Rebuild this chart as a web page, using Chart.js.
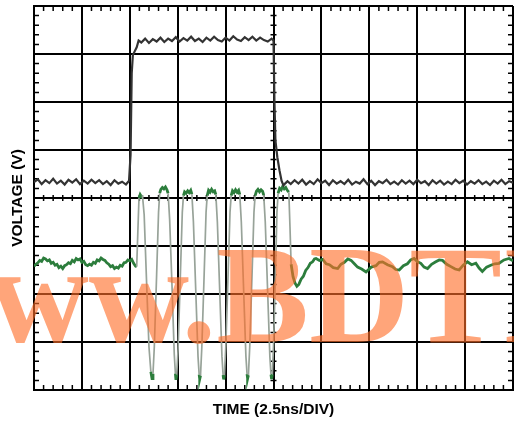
<!DOCTYPE html>
<html>
<head>
<meta charset="utf-8">
<script src="https://cdn.jsdelivr.net/npm/chart.js@4.4.1/dist/chart.umd.min.js"></script>
<style>
  html, body { margin: 0; padding: 0; background: #fff; }
</style>
</head>
<body>
<canvas id="scope" width="514" height="423"></canvas>
<script>
// Scope capture: 10 time divisions x 8 voltage divisions
const nsPerDiv = 2.5;
const timeDivs = 10;
const voltDivs = 8;

// Top trace (black): time in ns, level in divisions
const blackTime = [
  0.0, 0.2, 0.4, 0.6, 0.8, 1.0, 1.2, 1.4, 1.6, 1.8, 2.0, 2.2, 2.4, 2.6, 2.8, 3.0, 3.2, 3.4, 3.6, 3.8, 4.0, 4.2, 4.4, 4.6, 4.8,
  4.96, 5.04, 5.10, 5.16, 5.26, 5.36, 5.46,
  5.6, 5.8, 6.0, 6.2, 6.4, 6.6, 6.8, 7.0, 7.2, 7.4, 7.6, 7.8, 8.0, 8.2, 8.4, 8.6, 8.8, 9.0, 9.2, 9.4, 9.6, 9.8, 10.0, 10.2, 10.4, 10.6, 10.8, 11.0, 11.2, 11.4, 11.6, 11.8, 12.0, 12.2, 12.4,
  12.50, 12.55, 12.60, 12.70, 12.81, 12.92, 13.02, 13.13, 13.23,
  13.4, 13.6, 13.8, 14.0, 14.2, 14.4, 14.6, 14.8, 15.0, 15.2, 15.4, 15.6, 15.8, 16.0, 16.2, 16.4, 16.6, 16.8, 17.0, 17.2,
  17.4, 17.6, 17.8, 18.0, 18.2, 18.4, 18.6, 18.8, 19.0, 19.2, 19.4, 19.6, 19.8, 20.0, 20.2, 20.4, 20.6, 20.8, 21.0, 21.2,
  21.4, 21.6, 21.8, 22.0, 22.2, 22.4, 22.6, 22.8, 23.0, 23.2, 23.4, 23.6, 23.8, 24.0, 24.2, 24.4, 24.6, 24.8, 25.0
];
const blackVolts = [
  4.33, 4.39, 4.29, 4.37, 4.31, 4.40, 4.30, 4.36, 4.28, 4.38, 4.32, 4.39, 4.29, 4.36, 4.30, 4.38, 4.31, 4.37, 4.29, 4.35, 4.27, 4.37, 4.30, 4.34, 4.28,
  4.36, 4.90, 6.60, 6.98, 7.06, 7.14, 7.28,
  7.24, 7.32, 7.23, 7.31, 7.26, 7.34, 7.25, 7.32, 7.27, 7.35, 7.26, 7.33, 7.28, 7.36, 7.27, 7.32, 7.25, 7.34, 7.28, 7.36, 7.29, 7.26, 7.34, 7.28, 7.37, 7.30, 7.27, 7.35, 7.29, 7.36, 7.28, 7.34, 7.29, 7.26, 7.32,
  7.28, 6.00, 5.20, 4.85, 4.58, 4.36, 4.26, 4.31, 4.35,
  4.29, 4.37, 4.30, 4.38, 4.28, 4.35, 4.29, 4.39, 4.31, 4.36, 4.27, 4.37, 4.30, 4.35, 4.29, 4.38, 4.28, 4.34, 4.30, 4.39,
  4.29, 4.36, 4.27, 4.35, 4.31, 4.38, 4.29, 4.34, 4.28, 4.37, 4.30, 4.36, 4.29, 4.38, 4.31, 4.35, 4.27, 4.37, 4.30, 4.36,
  4.28, 4.34, 4.29, 4.38, 4.31, 4.36, 4.28, 4.35, 4.30, 4.37, 4.29, 4.34, 4.27, 4.36, 4.30, 4.38, 4.29, 4.35, 4.32
];

// Bottom trace (green): time in ns, level in divisions
const greenTime = [
  0.00, 0.10, 0.20, 0.30, 0.40, 0.50, 0.60, 0.70, 0.80, 0.90,
  1.00, 1.10, 1.20, 1.30, 1.40, 1.50, 1.60, 1.70, 1.80, 1.90,
  2.00, 2.10, 2.20, 2.30, 2.40, 2.50, 2.60, 2.70, 2.80, 2.90,
  3.00, 3.10, 3.20, 3.30, 3.40, 3.50, 3.60, 3.70, 3.80, 3.90,
  4.00, 4.10, 4.20, 4.30, 4.40, 4.50, 4.60, 4.70, 4.80, 4.90,
  5.00, 5.10, 5.20, 5.30,
  5.36, 5.42, 5.48, 5.54, 5.60, 5.66, 5.75, 5.88, 6.00, 6.10, 6.16, 6.21,
  6.28, 6.40, 6.50, 6.56, 6.62, 6.70, 6.78, 6.86, 6.94, 7.00, 7.08, 7.20, 7.32, 7.38, 7.41, 7.45,
  7.52, 7.64, 7.74,
  7.80, 7.86, 7.94, 8.02, 8.10, 8.18, 8.24, 8.32, 8.44, 8.56, 8.62, 8.65, 8.69,
  8.76, 8.88, 8.98,
  9.04, 9.11, 9.19, 9.27, 9.35, 9.43, 9.49, 9.57, 9.69, 9.81, 9.87, 9.90, 9.94,
  10.01, 10.13, 10.23,
  10.29, 10.36, 10.44, 10.52, 10.60, 10.68, 10.74, 10.82, 10.94, 11.06, 11.12, 11.15, 11.19,
  11.26, 11.38, 11.48,
  11.54, 11.61, 11.69, 11.77, 11.85, 11.93, 11.99, 12.07, 12.19, 12.31, 12.37, 12.40, 12.44,
  12.50, 12.60, 12.68,
  12.74, 12.82, 12.90, 12.98, 13.06, 13.14, 13.22, 13.30, 13.36, 13.42, 13.52, 13.62, 13.72, 13.82,
  13.94, 14.06, 14.18, 14.30, 14.42, 14.54, 14.64, 14.72,
  14.90, 15.07, 15.25, 15.42, 15.62, 15.85, 16.02, 16.20, 16.38, 16.55, 16.72, 16.89, 17.10, 17.33, 17.60, 17.85,
  18.02, 18.19, 18.45, 18.71, 18.88, 19.06, 19.28, 19.49, 19.66, 19.84, 20.02, 20.19, 20.36, 20.54, 20.75, 20.97,
  21.15, 21.32, 21.54, 21.76, 21.98, 22.19, 22.40, 22.62, 22.84, 23.06, 23.23, 23.40, 23.62, 23.84, 24.05, 24.27,
  24.53, 24.79, 25.00
];
const greenVolts = [
  2.58, 2.62, 2.65, 2.70, 2.68, 2.75, 2.73, 2.69, 2.71, 2.64,
  2.66, 2.60, 2.62, 2.55, 2.58, 2.53, 2.59, 2.61, 2.65, 2.63,
  2.70, 2.67, 2.74, 2.71, 2.73, 2.66, 2.68, 2.61, 2.59, 2.62,
  2.60, 2.66, 2.64, 2.71, 2.69, 2.75, 2.72, 2.70, 2.65, 2.62,
  2.57, 2.59, 2.53, 2.56, 2.54, 2.60, 2.58, 2.65, 2.66, 2.71,
  2.69, 2.72, 2.64, 2.58,
  2.57, 3.30, 4.00, 4.07, 4.03, 4.06, 3.65, 2.20, 0.90, 0.38, 0.24, 0.34,
  0.90, 2.40, 3.70, 4.10, 4.18, 4.22, 4.19, 4.23, 4.17, 4.10, 3.55, 2.20, 0.75, 0.34, 0.21, 0.32,
  0.85, 2.40, 3.70,
  4.05, 4.13, 4.10, 4.15, 4.11, 4.16, 4.08, 3.50, 2.10, 0.70, 0.32, 0.23, 0.30,
  0.90, 2.40, 3.70,
  4.05, 4.16, 4.12, 4.18, 4.13, 4.15, 4.07, 3.50, 2.10, 0.70, 0.31, 0.22, 0.31,
  0.90, 2.40, 3.70,
  4.05, 4.15, 4.11, 4.17, 4.12, 4.16, 4.07, 3.50, 2.10, 0.70, 0.33, 0.24, 0.31,
  0.90, 2.40, 3.70,
  4.05, 4.14, 4.18, 4.13, 4.17, 4.14, 4.06, 3.50, 2.10, 0.70, 0.32, 0.23, 0.33,
  0.90, 2.40, 3.70,
  4.10, 4.20, 4.17, 4.24, 4.19, 4.22, 4.16, 4.12, 3.40, 2.62, 2.36, 2.23, 2.16, 2.20,
  2.31, 2.37, 2.49, 2.55, 2.64, 2.67, 2.73, 2.74,
  2.70, 2.72, 2.63, 2.61, 2.55, 2.53, 2.62, 2.66, 2.73, 2.70, 2.63, 2.56, 2.52, 2.46, 2.56, 2.59,
  2.66, 2.67, 2.61, 2.57, 2.51, 2.50, 2.59, 2.63, 2.71, 2.74, 2.67, 2.64, 2.56, 2.53, 2.62, 2.67,
  2.71, 2.70, 2.62, 2.57, 2.52, 2.50, 2.60, 2.67, 2.61, 2.64, 2.54, 2.47, 2.56, 2.60, 2.63, 2.64,
  2.71, 2.74, 2.69
];

const traceGreen = '#2c7d3c';
const edgeGray = '#98a399';
const titleFont = { family: 'Liberation Sans, Arial, sans-serif', size: 15.5, weight: 'bold' };

// fast edges show up dim on the scope, flat parts bright green
function isEdge(ctx) {
  const dy = Math.abs(ctx.p1.parsed.y - ctx.p0.parsed.y);
  const dt = ctx.p1.parsed.x - ctx.p0.parsed.x;
  return dy > 0.3 && dy / dt > 2;
}

// small graticule marks: 5 per division on the border and on the centre lines
const minorTicks = {
  id: 'minorTicks',
  beforeDatasetsDraw(chart) {
    const { ctx, chartArea: a, scales: { x, y } } = chart;
    const midY = y.getPixelForValue(voltDivs / 2);
    const midX = x.getPixelForValue(timeDivs * nsPerDiv / 2);
    ctx.save();
    ctx.strokeStyle = '#000';
    ctx.lineWidth = 1.5;
    ctx.beginPath();
    for (let i = 1; i < timeDivs * 5; i++) {
      if (i % 5 === 0) continue;
      const px = x.getPixelForValue(i * nsPerDiv / 5);
      ctx.moveTo(px, a.top); ctx.lineTo(px, a.top + 5);
      ctx.moveTo(px, a.bottom); ctx.lineTo(px, a.bottom - 5);
      ctx.moveTo(px, midY - 3); ctx.lineTo(px, midY + 3);
    }
    for (let i = 1; i < voltDivs * 5; i++) {
      if (i % 5 === 0) continue;
      const py = y.getPixelForValue(i / 5);
      ctx.moveTo(a.left, py); ctx.lineTo(a.left + 5, py);
      ctx.moveTo(a.right, py); ctx.lineTo(a.right - 5, py);
      ctx.moveTo(midX - 3, py); ctx.lineTo(midX + 3, py);
    }
    ctx.stroke();
    ctx.restore();
  }
};

// the site watermark stamped across the lower half
const watermark = {
  id: 'watermark',
  afterDatasetsDraw(chart) {
    const { ctx } = chart;
    ctx.save();
    ctx.font = 'bold 139px "Liberation Serif", "Times New Roman", serif';
    ctx.fillStyle = 'rgba(255, 110, 40, 0.62)';
    ctx.textAlign = 'left';
    ctx.textBaseline = 'alphabetic';
    ctx.fillText('www.BDTIC.com', -112, 342);
    ctx.restore();
  }
};

const ctx = document.getElementById('scope').getContext('2d');
const scopeChart = new Chart(ctx, {
  type: 'line',
  data: {
    datasets: [
      {
        label: 'CH1',
        data: blackTime.map((t, i) => ({ x: t, y: blackVolts[i] })),
        borderColor: '#333',
        borderWidth: 2.2,
        pointRadius: 0,
        tension: 0
      },
      {
        label: 'CH2',
        data: greenTime.map((t, i) => ({ x: t, y: greenVolts[i] })),
        borderColor: traceGreen,
        borderWidth: 2.8,
        pointRadius: 0,
        tension: 0,
        segment: {
          borderColor: c => isEdge(c) ? edgeGray : traceGreen,
          borderWidth: c => isEdge(c) ? 1.7 : 2.8
        }
      }
    ]
  },
  options: {
    responsive: false,
    animation: false,
    devicePixelRatio: 1,
    layout: { padding: { top: 6, right: 1, bottom: 4.2, left: 4 } },
    plugins: {
      legend: { display: false },
      tooltip: { enabled: false }
    },
    scales: {
      x: {
        type: 'linear',
        min: 0,
        max: timeDivs * nsPerDiv,
        ticks: { stepSize: nsPerDiv, display: false },
        grid: { color: '#000', lineWidth: 2, drawTicks: false },
        border: { color: '#000', width: 2 },
        title: {
          display: true,
          text: 'TIME (2.5ns/DIV)',
          color: '#000',
          font: titleFont,
          padding: { top: 10.2, bottom: 0 }
        }
      },
      y: {
        min: 0,
        max: voltDivs,
        ticks: { stepSize: 1, display: false },
        grid: { color: '#000', lineWidth: 2, drawTicks: false },
        border: { color: '#000', width: 2 },
        title: {
          display: true,
          text: 'VOLTAGE (V)',
          color: '#000',
          font: titleFont,
          padding: { top: 4.2, bottom: 7.2 }
        }
      }
    }
  },
  plugins: [minorTicks, watermark]
});
</script>
</body>
</html>
